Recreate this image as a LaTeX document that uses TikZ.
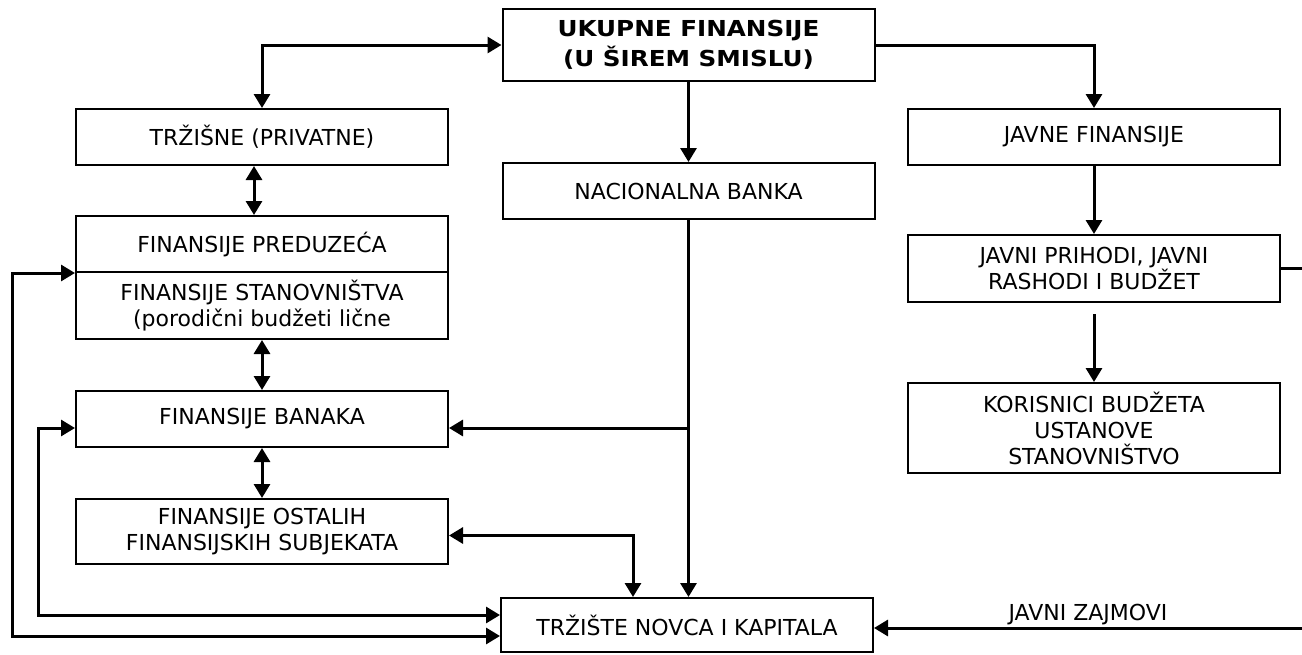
\documentclass[tikz,border=0pt]{standalone}
\usepackage{fontspec}
\setmainfont{DejaVu Sans}
\newfontfamily\titlefont{DejaVu Sans}[FakeStretch=1.12]
\usetikzlibrary{arrows.meta,calc}

\tikzset{
  box/.style={draw, line width=1pt, minimum width=186pt, inner sep=0pt, align=center, font=\fontsize{11}{13}\selectfont},
  link/.style={line width=1.5pt, -{Triangle[length=7pt,width=8pt]}},
  both/.style={line width=1.5pt, {Triangle[length=7pt,width=8pt]}-{Triangle[length=7pt,width=8pt]}},
  wire/.style={line width=1.5pt},
  lbl/.style={font=\fontsize{11}{13}\selectfont, inner sep=1pt}
}

\begin{document}
\begin{tikzpicture}[x=0.5pt,y=-0.5pt]
\useasboundingbox (0,0) rectangle (1302,654);
% boxes
\node[box, minimum height=36pt, font=\titlefont\bfseries\fontsize{11}{15}\selectfont] (tot) at (688.5,45) {UKUPNE FINANSIJE\\(U ŠIREM SMISLU)};
\node[box, minimum height=28pt] (trz) at (262,137) {TRŽIŠNE (PRIVATNE)};
\node[box, minimum height=28pt] (nb) at (688.5,191) {NACIONALNA BANKA};
\node[box, minimum height=28pt] (jf) at (1094,137) {JAVNE FINANSIJE};
\node[box, minimum height=28pt] (pred) at (262,244) {FINANSIJE PREDUZEĆA};
\node[box, minimum height=33.5pt] (stan) at (262,305.5) {FINANSIJE STANOVNIŠTVA\\(porodični budžeti lične};
\node[box, minimum height=28pt] (ban) at (262,419) {FINANSIJE BANAKA};
\node[box, minimum height=32.5pt] (ost) at (262,531.5) {FINANSIJE OSTALIH\\FINANSIJSKIH SUBJEKATA};
\node[box, minimum height=33.5pt] (jp) at (1094,268.5) {JAVNI PRIHODI, JAVNI\\RASHODI I BUDŽET};
\node[box, minimum height=45pt] (kor) at (1094,428) {KORISNICI BUDŽETA\\USTANOVE\\STANOVNIŠTVO};
\node[box, minimum height=27pt] (tnk) at (687,625) {TRŽIŠTE NOVCA I KAPITALA};

% top level
\draw[both] (tot.west) -| (trz.north);
\draw[link] (tot.east) -| (jf.north);
\draw[link] (tot) -- (nb);

% central bank
\coordinate (nbb) at ($(nb.south |- ban.east)+(0,9)$);
\draw[link] (nb.south) -- (nb.south |- tnk.north);
\draw[link] (nbb) -- (nbb -| ban.east);

% left column
\draw[both] ([xshift=-4pt]trz.south) -- ([xshift=-4pt]pred.north);
\draw[both] (stan) -- (ban);
\draw[both] (ban) -- (ost);
\draw[both] ([yshift=-2pt]ost.east) -| ([xshift=-27pt]tnk.north);
\draw[both] (pred.south west) -- ++(-63,0) |- ([yshift=-5.5pt]tnk.west);
\draw[both] ([yshift=-4.5pt]ban.west) -- ++(-37,0) |- ([yshift=5pt]tnk.west);

% right column
\draw[link] (jf) -- (jp);
\draw[link, shorten <=5.5pt] (jp) -- (kor);
\draw[wire] (jp.east) -- ++(22,0);
\coordinate (zr) at (1302,628);
\draw[link] (zr) -- (zr -| tnk.east) node[midway, above, lbl] {JAVNI ZAJMOVI};
\end{tikzpicture}
\end{document}
